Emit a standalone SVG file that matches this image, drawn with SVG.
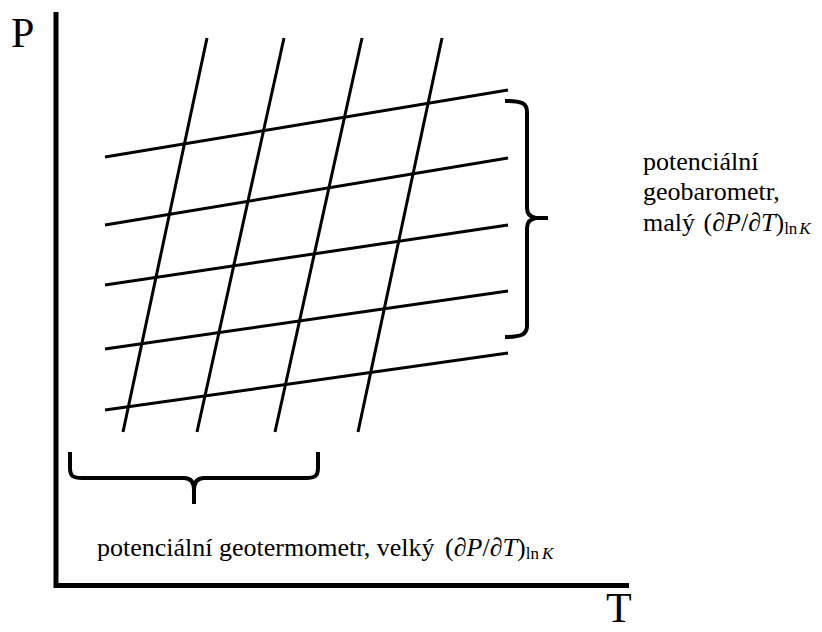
<svg xmlns="http://www.w3.org/2000/svg" width="822" height="632" viewBox="0 0 822 632">
<style>
.axis{stroke:#000;stroke-width:5;fill:none}
.grid{stroke:#000;stroke-width:3;fill:none}
.brace{stroke:#000;stroke-width:4;fill:none;stroke-linejoin:round}
.lbl{font-family:"Liberation Serif","Times New Roman","DejaVu Serif",serif;fill:#000}
.t{font-size:26px}
.ax{font-size:42px}
.it{font-style:italic}
.sub{font-size:17px}
</style>
<rect width="822" height="632" fill="#fff"/>
<g id="axes">
<line class="axis" x1="56" y1="12" x2="56" y2="588"/>
<line class="axis" x1="54" y1="585.5" x2="629" y2="585.5"/>
<text class="lbl ax" x="11" y="47">P</text>
<text class="lbl ax" x="606" y="622" font-size="41">T</text>
</g>
<g id="connectors">
<line class="grid" x1="105" y1="157" x2="508" y2="90"/>
<line class="grid" x1="105" y1="225" x2="508" y2="158"/>
<line class="grid" x1="105" y1="285" x2="508" y2="225"/>
<line class="grid" x1="105" y1="349" x2="508" y2="291"/>
<line class="grid" x1="105" y1="410" x2="508" y2="353"/>
<line class="grid" x1="207" y1="38" x2="123" y2="432"/>
<line class="grid" x1="284" y1="38" x2="197" y2="432"/>
<line class="grid" x1="362" y1="38" x2="275" y2="432"/>
<line class="grid" x1="442" y1="38" x2="358" y2="432"/>
</g>
<g id="brace-right">
<path class="brace" d="M505,101 C522,101 527,103 527,112 L527,208 C527,214 530,217 536,218 L548,218 M536,218 C530,219 527,222 527,228 L527,326 C527,334 522,337 505,337"/>
</g>
<g id="brace-bottom">
<path class="brace" d="M70,452 L70,468 C70,476 73,478 82,478 L184,478 C190,478 194,481 194,490 L194,504 M194,490 C194,481 198,478 204,478 L306,478 C315,478 318,476 318,468 L318,452"/>
</g>
<g id="label-geobarometr">
<text class="lbl t" x="643" y="170">potenciální</text>
<text class="lbl t" x="643" y="200">geobarometr,</text>
<text class="lbl t" x="643" y="231">malý <tspan dx="2">(</tspan><tspan class="it">∂P</tspan>/<tspan class="it">∂T</tspan>)<tspan class="sub" dy="3">ln</tspan><tspan class="sub it" dx="2">K</tspan></text>
</g>
<g id="label-geotermometr">
<text class="lbl t" x="97" y="556">potenciální geotermometr, velký <tspan dx="4">(</tspan><tspan class="it">∂P</tspan>/<tspan class="it">∂T</tspan>)<tspan class="sub" dy="3" font-size="18">ln</tspan><tspan class="sub it" dx="3" font-size="18">K</tspan></text>
</g>
</svg>
